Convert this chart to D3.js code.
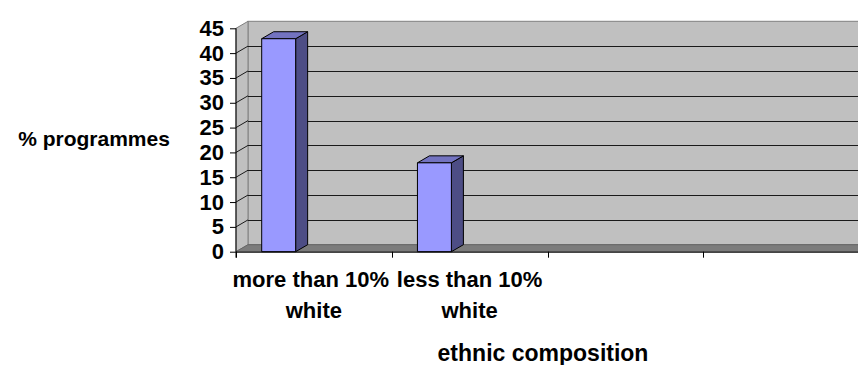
<!DOCTYPE html>
<html>
<head>
<meta charset="utf-8">
<script src="https://cdn.jsdelivr.net/npm/d3@7"></script>
<style>
  html, body { margin: 0; padding: 0; background: #fff; }
  svg { display: block; }
  text { font-family: "Liberation Sans", Arial, sans-serif; font-weight: bold; fill: #000; }
</style>
</head>
<body>
<svg id="chart" width="858" height="365"></svg>
<script>
// Category slots along the x axis (the last two are unused, left blank)
const categories = ["more than 10% white", "less than 10% white", "", ""];
// Wrapped label lines for each category
const categoryLines = [["more than 10% ", "white"], ["less than 10%", "white"], [], []];
// % of programmes per category
const values = [42.9, 17.9, null, null];
// Value-axis ticks
const yTicks = [0, 5, 10, 15, 20, 25, 30, 35, 40, 45];

const yTitle = "% programmes";
const xTitle = "ethnic composition";

const W = 858, H = 365;
const front = { left: 236, right: 859, top: 28.3, bottom: 251.7 };
const depth = { dx: 12, dy: -7 };

const svg = d3.select("#chart");

const x = d3.scaleBand()
  .domain(d3.range(categories.length))
  .range([front.left, front.right])
  .paddingInner(0).paddingOuter(0);

const y = d3.scaleLinear()
  .domain([0, 45])
  .range([front.bottom, front.top]);

const bw = x.bandwidth();
const barOffset = bw * 0.165;
const barWidth = bw * 0.218;

const pts = a => a.map(p => p.join(",")).join(" ");

// --- walls and floor ---
const wallFill = "#c0c0c0", edge = "#808080";
const bx0 = front.left + depth.dx;
const yBack = v => y(v) + depth.dy;

// back wall
svg.append("rect")
  .attr("x", bx0).attr("y", yBack(45))
  .attr("width", W - bx0 + 2).attr("height", yBack(0) - yBack(45))
  .attr("fill", wallFill).attr("stroke", edge).attr("stroke-width", 1);

// side wall
svg.append("polygon")
  .attr("points", pts([[front.left, y(45)], [bx0, yBack(45)], [bx0, yBack(0)], [front.left, y(0)]]))
  .attr("fill", wallFill).attr("stroke", edge).attr("stroke-width", 1);

// floor
svg.append("polygon")
  .attr("points", pts([[front.left, y(0)], [bx0, yBack(0)], [W + 2, yBack(0)], [W + 2, y(0)]]))
  .attr("fill", "#7c7c7c").attr("stroke", "#666").attr("stroke-width", 1);

// gridlines on back wall and side wall
const grid = svg.append("g").attr("stroke", "#1a1a1a").attr("stroke-width", 1).attr("fill", "none");
yTicks.filter(t => t > 0 && t < 45).forEach(t => {
  grid.append("line")
    .attr("x1", bx0).attr("x2", W + 2)
    .attr("y1", Math.round(yBack(t)) + 0.5).attr("y2", Math.round(yBack(t)) + 0.5);
  grid.append("line")
    .attr("x1", front.left).attr("y1", y(t))
    .attr("x2", bx0).attr("y2", yBack(t));
});

// --- bars (3D columns) ---
const bars = svg.append("g").attr("stroke", "#000").attr("stroke-width", 1).attr("stroke-linejoin", "round");
categories.forEach((c, i) => {
  const v = values[i];
  if (v == null) return;
  const x0 = x(i) + barOffset, x1 = x0 + barWidth;
  const yt = y(v), yb = y(0);
  const g = bars.append("g");
  // side face
  g.append("polygon")
    .attr("points", pts([[x1, yt], [x1 + depth.dx, yt + depth.dy], [x1 + depth.dx, yb + depth.dy], [x1, yb]]))
    .attr("fill", "#4d4d85");
  // top face
  g.append("polygon")
    .attr("points", pts([[x0, yt], [x0 + depth.dx, yt + depth.dy], [x1 + depth.dx, yt + depth.dy], [x1, yt]]))
    .attr("fill", "#7373c0");
  // front face
  g.append("rect")
    .attr("x", x0).attr("y", yt)
    .attr("width", barWidth).attr("height", yb - yt)
    .attr("fill", "#9999ff");
});

// --- value axis ---
const yAxis = d3.axisLeft(y).tickValues(yTicks).tickSize(6).tickPadding(6);
const yg = svg.append("g").attr("transform", `translate(${front.left},0)`).call(yAxis);
yg.select(".domain").remove();
yg.selectAll(".tick line").attr("stroke", "#000");
yg.selectAll(".tick text")
  .style("font-size", "22px").style("font-family", "'Liberation Sans', Arial, sans-serif")
  .style("font-weight", "bold").attr("fill", "#000");
svg.append("line")
  .attr("x1", front.left).attr("x2", front.left)
  .attr("y1", y(45)).attr("y2", y(0) + 6)
  .attr("stroke", "#000");

// --- category axis ---
const xAxis = d3.axisBottom(x).tickSize(0).tickFormat("");
const xg = svg.append("g").attr("transform", `translate(0,${y(0)})`).call(xAxis);
xg.select(".domain").attr("d", `M${front.left},0.5H${W + 2}`).attr("stroke", "#000");
// tick marks on the category boundaries
d3.range(categories.length).forEach(i => {
  xg.append("line")
    .attr("x1", Math.round(x(i)) + 0.5).attr("x2", Math.round(x(i)) + 0.5)
    .attr("y1", 0).attr("y2", 6).attr("stroke", "#000");
});
// wrapped category labels
categoryLines.forEach((lines, i) => {
  const cx = x(i) + bw / 2;
  lines.forEach((ln, k) => {
    svg.append("text")
      .attr("x", cx).attr("y", 287 + k * 31)
      .attr("text-anchor", "middle")
      .attr("xml:space", "preserve")
      .style("white-space", "pre")
      .style("font-size", "22px")
      .text(ln);
  });
});

// --- axis titles ---
svg.append("text")
  .attr("x", 94).attr("y", 146)
  .attr("text-anchor", "middle")
  .style("font-size", "21px")
  .text(yTitle);

svg.append("text")
  .attr("x", 543).attr("y", 361)
  .attr("text-anchor", "middle")
  .style("font-size", "23px")
  .text(xTitle);
</script>
</body>
</html>
